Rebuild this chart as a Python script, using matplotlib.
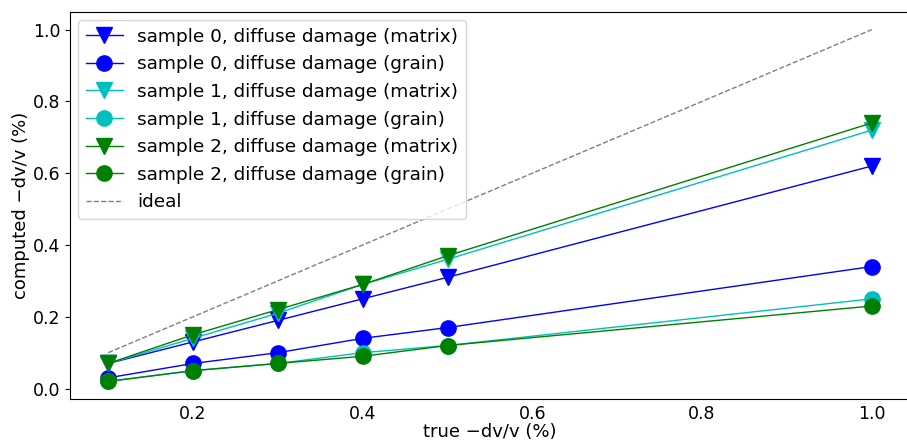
import matplotlib
matplotlib.use("Agg")
import matplotlib.pyplot as plt

x = [0.1, 0.2, 0.3, 0.4, 0.5, 1.0]
s0_matrix = [0.07, 0.13, 0.19, 0.25, 0.31, 0.62]
s0_grain = [0.03, 0.07, 0.10, 0.14, 0.17, 0.34]
s1_matrix = [0.07, 0.14, 0.21, 0.29, 0.36, 0.72]
s1_grain = [0.02, 0.05, 0.07, 0.10, 0.12, 0.25]
s2_matrix = [0.07, 0.15, 0.22, 0.29, 0.37, 0.74]
s2_grain = [0.02, 0.05, 0.07, 0.09, 0.12, 0.23]
ideal = [0.1, 1.0]

plt.rcParams['font.size'] = 13
fig = plt.figure(figsize=(9.07, 4.42), dpi=100)
ax = fig.add_axes([70/907, 43/442, 840/907, 387/442])

ax.plot(x, s0_matrix, 'v-', color='b', ms=11, lw=1, label='sample 0, diffuse damage (matrix)')
ax.plot(x, s0_grain, 'o-', color='b', ms=11, lw=1, label='sample 0, diffuse damage (grain)')
ax.plot(x, s1_matrix, 'v-', color='c', ms=11, lw=1, label='sample 1, diffuse damage (matrix)')
ax.plot(x, s1_grain, 'o-', color='c', ms=11, lw=1, label='sample 1, diffuse damage (grain)')
ax.plot(x, s2_matrix, 'v-', color='g', ms=11, lw=1, label='sample 2, diffuse damage (matrix)')
ax.plot(x, s2_grain, 'o-', color='g', ms=11, lw=1, label='sample 2, diffuse damage (grain)')
ax.plot(ideal, ideal, '--', color='gray', lw=1, label='ideal')

ax.tick_params(labelsize=12.5)
ax.tick_params(axis='x', length=0, pad=4)
ax.set_xlabel('true \u2212dv/v (%)', labelpad=0)
ax.set_ylabel('computed \u2212dv/v (%)', labelpad=2)
ax.legend(loc='upper left', borderaxespad=0.45, labelspacing=0.52, fontsize=13.3)

fig.savefig('out.png', dpi=100)
